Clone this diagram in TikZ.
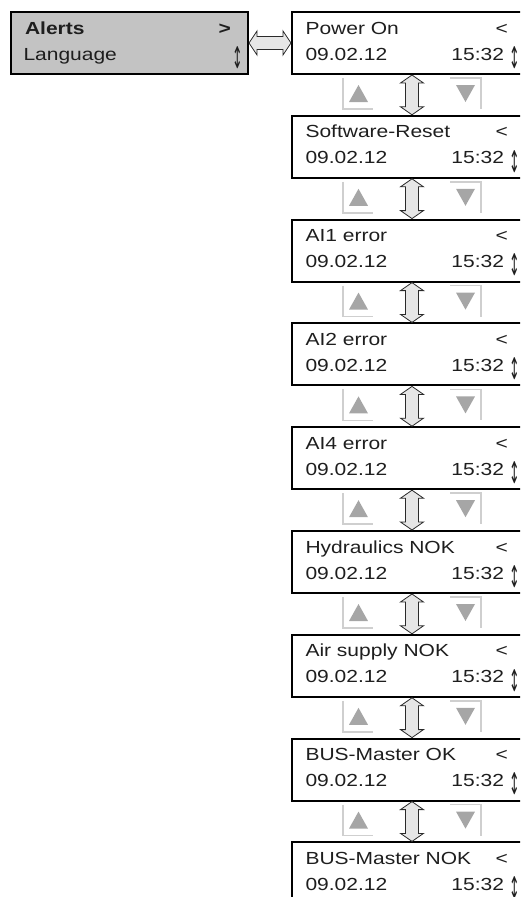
\documentclass[tikz,border=0pt]{standalone}
\usepackage{fontspec}
\setmainfont[FakeStretch=1.2]{Liberation Sans}
\newfontfamily\symfont{DejaVu Sans}
\usetikzlibrary{calc}
\definecolor{boxgray}{HTML}{C3C3C3}
\definecolor{arrfill}{HTML}{E6E6E6}
\definecolor{arrline}{HTML}{2A2A2A}
\definecolor{txtcol}{HTML}{1E1E1E}
\definecolor{btnline}{HTML}{CFCFCF}
\definecolor{btntri}{HTML}{A6A6A6}
\begin{document}
\begin{tikzpicture}[x=1pt,y=-1pt,
  box/.style={draw=black, line width=2pt, minimum width=250pt, minimum height=62pt,
    inner sep=0pt, outer sep=0pt, anchor=north west},
  menubox/.style={box, fill=boxgray, minimum width=237pt},
  txt/.style={inner sep=0pt, outer sep=0pt, text=txtcol, font=\fontsize{17.5}{20}\selectfont},
  btxt/.style={txt, font=\fontsize{17.5}{20}\selectfont\bfseries},
  updn/.style={inner sep=0pt, outer sep=0pt, text=txtcol, font=\symfont\fontsize{30}{30}\selectfont},
  dblarrow/.style={draw=arrline, fill=arrfill, line width=0.8pt, line join=miter},
  btnl/.style={draw=btnline, line width=1.6pt},
  btnt/.style={fill=btntri}
]
\useasboundingbox (0,0) rectangle (520,897);
\clip (0,0) rectangle (520,897);

% menu box
\node[menubox] (m) at (11,12) {};
\node[btxt, anchor=base west] (ma) at ($(m.north west)+(14,22)$) {Alerts};
\node[txt, anchor=base west] (ml) at ($(m.north west)+(12.5,48)$) {Language};
\node[btxt, anchor=base east] (mg) at ($(m.north west)+(220,22)$) {>};
\node[updn] (mu) at ($(m.north west)+(226.5,45.5)$) {\scalebox{0.42}[1]{↕}};

% alert boxes
\foreach \i/\lab in {1/Power On, 2/Software-Reset, 3/AI1 error, 4/AI2 error, 5/AI4 error,
                     6/Hydraulics NOK, 7/Air supply NOK, 8/BUS-Master OK, 9/BUS-Master NOK} {
  \node[box] (b\i) at (292, {12+103.8*(\i-1)}) {};
  \node[txt, anchor=base west] (t\i) at ($(b\i.north west)+(13.5,22)$) {\lab};
  \node[txt, anchor=base west] (d\i) at ($(b\i.north west)+(13.5,48)$) {09.02.12};
  \node[txt, anchor=base east] (lt\i) at ($(b\i.north west)+(216,22)$) {<};
  \node[txt, anchor=base east] (h\i) at ($(b\i.north west)+(212,48)$) {15:32};
  \node[updn] (u\i) at ($(b\i.north west)+(222.5,45.5)$) {\scalebox{0.42}[1]{↕}};
}

% horizontal double arrow
\draw[dblarrow] let \p1=(m.east), \p2=(b1.west) in
  (\x1+1pt,\y1) -- (\x1+9pt,\y1+12pt) -- (\x1+9pt,\y1+6.5pt) -- (\x2-9pt,\y1+6.5pt)
  -- (\x2-9pt,\y1+12pt) -- (\x2-1pt,\y1) -- (\x2-9pt,\y1-12pt) -- (\x2-9pt,\y1-6.5pt)
  -- (\x1+9pt,\y1-6.5pt) -- (\x1+9pt,\y1-12pt) -- cycle;

% vertical connectors and buttons
\foreach \i [evaluate=\i as \j using int(\i+1)] in {1,...,8} {
  \coordinate (s\i) at ($(b\i.south west)+(120,0)$);
  \coordinate (n\i) at ($(b\j.north west)+(120,0)$);
  \draw[dblarrow] let \p1=(s\i), \p2=(n\i) in
    (\x1,\y1-1pt) -- (\x1+11.5pt,\y1-9pt) -- (\x1+6.5pt,\y1-9pt) -- (\x1+6.5pt,\y2+9pt)
    -- (\x1+11.5pt,\y2+9pt) -- (\x1,\y2+1pt) -- (\x1-11.5pt,\y2+9pt) -- (\x1-6.5pt,\y2+9pt)
    -- (\x1-6.5pt,\y1-9pt) -- (\x1-11.5pt,\y1-9pt) -- cycle;
  % up button
  \draw[btnl] ($(b\i.south west)+(51,4)$) -- ($(b\i.south west)+(51,35)$) -- ($(b\i.south west)+(81,35)$);
  \fill[btnt] ($(b\i.south west)+(57,28)$) -- ($(b\i.south west)+(76,28)$) -- ($(b\i.south west)+(66.5,11)$) -- cycle;
  % down button
  \draw[btnl] ($(b\i.south west)+(158,4)$) -- ($(b\i.south west)+(189,4)$) -- ($(b\i.south west)+(189,35)$);
  \fill[btnt] ($(b\i.south west)+(164,11)$) -- ($(b\i.south west)+(183,11)$) -- ($(b\i.south west)+(173.5,28)$) -- cycle;
}
\end{tikzpicture}
\end{document}
